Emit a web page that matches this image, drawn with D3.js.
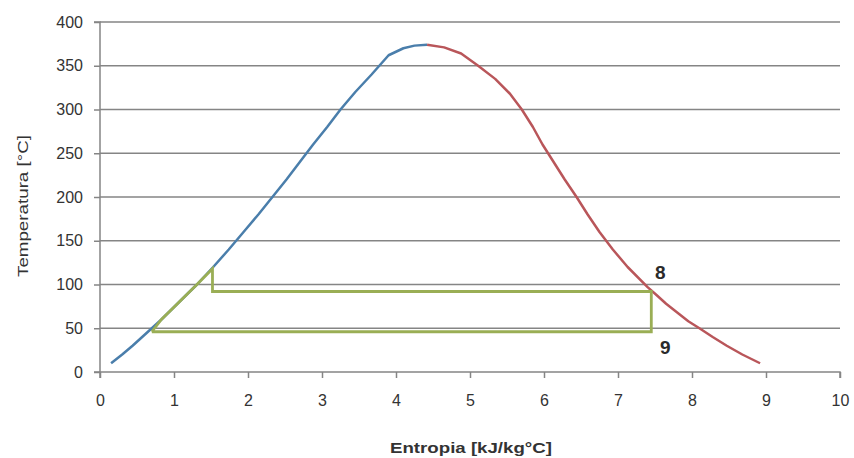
<!DOCTYPE html>
<html><head><meta charset="utf-8">
<script src="https://cdn.jsdelivr.net/npm/d3@7"></script>
<style>body{margin:0;background:#fff}svg{display:block}</style>
</head><body><svg id="c" width="854" height="458"></svg>
<script>
// Saturated liquid line (entropy kJ/kg°C, temperature °C)
const liquidS = [0.15,0.30,0.44,0.57,0.70,0.83,0.95,1.07,1.19,1.31,1.53,1.74,1.94,2.14,2.33,2.52,2.70,2.88,3.07,3.25,3.45,3.67,3.90,4.10,4.25,4.42];
const liquidT = [10,20,30,40,50,60,70,80,90,100,120,140,160,180,200,220,240,260,280,300,320,340,362,370,373,374];
// Saturated vapour line
const vaporS = [4.42,4.65,4.88,5.11,5.34,5.54,5.70,5.85,5.98,6.13,6.28,6.44,6.59,6.75,6.93,7.13,7.40,7.52,7.65,7.80,7.95,8.10,8.28,8.47,8.68,8.92];
const vaporT = [374,371,364,350,335,318,300,280,260,240,220,200,180,160,140,120,97,88,78,68,58,50,40,30,20,10];
// Cycle (green)
const cycleS = [0.70,7.45,7.45,1.52,1.52,1.31,1.19,1.07,0.95,0.83,0.70];
const cycleT = [46,46,92,92,118,100,90,80,70,60,46];
const xTicks = [0,1,2,3,4,5,6,7,8,9,10];
const yTicks = [0,50,100,150,200,250,300,350,400];
const labels = [{t:"8", s:7.57, T:114}, {t:"9", s:7.64, T:28}];

const svg = d3.select("#c");
const x = d3.scaleLinear().domain([0,10]).range([100,840]);
const y = d3.scaleLinear().domain([0,400]).range([372,22]);
const font = "'Liberation Sans', Arial, sans-serif";

// gridlines
svg.append("g").selectAll("line").data(yTicks.slice(1)).join("line")
  .attr("x1",x(0)).attr("x2",x(10)).attr("y1",d=>y(d)).attr("y2",d=>y(d))
  .attr("stroke","#858585").attr("stroke-width",1.5);

// axes
const gx = svg.append("g").attr("transform",`translate(0,${y(0)})`)
  .call(d3.axisBottom(x).tickValues(xTicks).tickSize(6).tickPadding(17).tickFormat(d3.format("d")));
const gy = svg.append("g").attr("transform",`translate(${x(0)},0)`)
  .call(d3.axisLeft(y).tickValues(yTicks).tickSize(6).tickPadding(11).tickFormat(d3.format("d")));
[gx,gy].forEach(g=>{
  g.select(".domain").attr("stroke","#858585").attr("stroke-width",1.5);
  g.selectAll(".tick line").attr("stroke","#858585").attr("stroke-width",1.5);
  g.selectAll("text").attr("font-family",font).attr("font-size",16).attr("fill","#333");
});
gy.select(".domain").attr("d",`M-6,${y(0)}H0V${y(400)}H-6`);
gx.select(".domain").attr("d",`M${x(0)},6V0H${x(10)}V6`);

const line = d3.line().x(d=>x(d[0])).y(d=>y(d[1]));
const liq = liquidS.map((s,i)=>[s,liquidT[i]]);
const vap = vaporS.map((s,i)=>[s,vaporT[i]]);
const cyc = cycleS.map((s,i)=>[s,cycleT[i]]);

svg.append("path").attr("d",line(liq)).attr("fill","none").attr("stroke","#4a7eab").attr("stroke-width",2.5).attr("stroke-linejoin","round");
svg.append("path").attr("d",line(vap)).attr("fill","none").attr("stroke","#b9565a").attr("stroke-width",2.5).attr("stroke-linejoin","round");
svg.append("path").attr("d",line(cyc)).attr("fill","none").attr("stroke","#9aae55").attr("stroke-width",2.8).attr("stroke-linejoin","miter");

svg.append("g").selectAll("text").data(labels).join("text")
  .attr("x",d=>x(d.s)).attr("y",d=>y(d.T)).attr("text-anchor","middle").attr("dominant-baseline","central")
  .attr("font-family",font).attr("font-weight","bold").attr("font-size",19).attr("fill","#2a2a2a").text(d=>d.t);

svg.append("text").attr("x",471).attr("y",447).attr("text-anchor","middle").attr("dominant-baseline","central")
  .attr("font-family",font).attr("font-weight","bold").attr("font-size",15).attr("fill","#333")
  .attr("textLength",162).attr("lengthAdjust","spacingAndGlyphs").text("Entropia [kJ/kg°C]");
svg.append("text").attr("transform","translate(22,206) rotate(-90)").attr("text-anchor","middle").attr("dominant-baseline","central")
  .attr("font-family",font).attr("font-size",15).attr("fill","#333")
  .attr("textLength",142).attr("lengthAdjust","spacingAndGlyphs").text("Temperatura [°C]");
</script></body></html>
